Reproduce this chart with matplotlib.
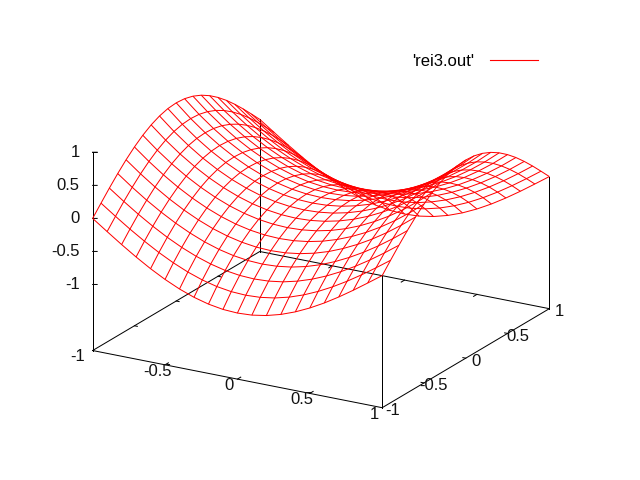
import numpy as np
import matplotlib
matplotlib.use("Agg")
import matplotlib.pyplot as plt
from matplotlib.lines import Line2D
from mpl_toolkits.mplot3d import proj3d

plt.rcParams['font.family'] = ['Liberation Sans', 'DejaVu Sans']

x_values = [-1.0, -0.9, -0.8, -0.7, -0.6, -0.5, -0.4, -0.3, -0.2, -0.1, 0.0,
            0.1, 0.2, 0.3, 0.4, 0.5, 0.6, 0.7, 0.8, 0.9, 1.0]
y_values = list(x_values)

# one row per y value (y = -1 first), one column per x value
z_values = [
 [0,-.156,-.309,-.454,-.588,-.707,-.809,-.891,-.951,-.988,-1,-.988,-.951,-.891,-.809,-.707,-.588,-.454,-.309,-.156,0],
 [.156,0,-.150,-.290,-.418,-.531,-.627,-.704,-.760,-.794,-.805,-.794,-.760,-.704,-.627,-.531,-.418,-.290,-.150,0,.156],
 [.309,.150,0,-.138,-.263,-.372,-.464,-.537,-.591,-.623,-.634,-.623,-.591,-.537,-.464,-.372,-.263,-.138,0,.150,.309],
 [.454,.290,.138,0,-.123,-.230,-.320,-.391,-.442,-.473,-.484,-.473,-.442,-.391,-.320,-.230,-.123,0,.138,.290,.454],
 [.588,.418,.263,.123,0,-.106,-.195,-.264,-.314,-.345,-.355,-.345,-.314,-.264,-.195,-.106,0,.123,.263,.418,.588],
 [.707,.531,.372,.230,.106,0,-.088,-.157,-.206,-.236,-.246,-.236,-.206,-.157,-.088,0,.106,.230,.372,.531,.707],
 [.809,.627,.464,.320,.195,.088,0,-.069,-.118,-.147,-.157,-.147,-.118,-.069,0,.088,.195,.320,.464,.627,.809],
 [.891,.704,.537,.391,.264,.157,.069,0,-.049,-.079,-.089,-.079,-.049,0,.069,.157,.264,.391,.537,.704,.891],
 [.951,.760,.591,.442,.314,.206,.118,.049,0,-.029,-.039,-.029,0,.049,.118,.206,.314,.442,.591,.760,.951],
 [.988,.794,.623,.473,.345,.236,.147,.079,.029,0,-.010,0,.029,.079,.147,.236,.345,.473,.623,.794,.988],
 [1,.805,.634,.484,.355,.246,.157,.089,.039,.010,0,.010,.039,.089,.157,.246,.355,.484,.634,.805,1],
 [.988,.794,.623,.473,.345,.236,.147,.079,.029,0,-.010,0,.029,.079,.147,.236,.345,.473,.623,.794,.988],
 [.951,.760,.591,.442,.314,.206,.118,.049,0,-.029,-.039,-.029,0,.049,.118,.206,.314,.442,.591,.760,.951],
 [.891,.704,.537,.391,.264,.157,.069,0,-.049,-.079,-.089,-.079,-.049,0,.069,.157,.264,.391,.537,.704,.891],
 [.809,.627,.464,.320,.195,.088,0,-.069,-.118,-.147,-.157,-.147,-.118,-.069,0,.088,.195,.320,.464,.627,.809],
 [.707,.531,.372,.230,.106,0,-.088,-.157,-.206,-.236,-.246,-.236,-.206,-.157,-.088,0,.106,.230,.372,.531,.707],
 [.588,.418,.263,.123,0,-.106,-.195,-.264,-.314,-.345,-.355,-.345,-.314,-.264,-.195,-.106,0,.123,.263,.418,.588],
 [.454,.290,.138,0,-.123,-.230,-.320,-.391,-.442,-.473,-.484,-.473,-.442,-.391,-.320,-.230,-.123,0,.138,.290,.454],
 [.309,.150,0,-.138,-.263,-.372,-.464,-.537,-.591,-.623,-.634,-.623,-.591,-.537,-.464,-.372,-.263,-.138,0,.150,.309],
 [.156,0,-.150,-.290,-.418,-.531,-.627,-.704,-.760,-.794,-.805,-.794,-.760,-.704,-.627,-.531,-.418,-.290,-.150,0,.156],
 [0,-.156,-.309,-.454,-.588,-.707,-.809,-.891,-.951,-.988,-1,-.988,-.951,-.891,-.809,-.707,-.588,-.454,-.309,-.156,0],
]

x_ticks = [-1, -0.5, 0, 0.5, 1]
y_ticks = [-1, -0.5, 0, 0.5, 1]
z_ticks = [-1, -0.5, 0, 0.5, 1]
x_labels = ['-1', '-0.5', '0', '0.5', '1']
y_labels = ['-1', '-0.5', '0', '0.5', '1']
z_labels = ['-1', '-0.5', '0', '0.5', '1']
legend_label = "'rei3.out'"

z_floor = -2
z_top = 1

X, Y = np.meshgrid(x_values, y_values)
Z = np.array(z_values, dtype=float)

fig = plt.figure(figsize=(6.4, 4.8), dpi=100, facecolor='white')
ax = fig.add_axes([-5.5 / 640, 3 / 480, 1, 1], projection='3d', proj_type='ortho')
ax.set_xticks([])
ax.set_yticks([])
ax.set_zticks([])
ax.set_axis_off()
ax.computed_zorder = False
ax.view_init(elev=20, azim=-60)
ax.set_box_aspect((334, 334, 210.7), zoom=1.047)
ax.set_xlim(-1, 1)
ax.set_ylim(-1, 1)
ax.set_zlim(z_floor, z_top)

LW = 0.72
axis_style = dict(color='black', lw=LW, zorder=2)

# base rectangle
ax.plot([-1, 1, 1, -1, -1], [-1, -1, 1, 1, -1], z_floor, **axis_style)
# verticals up to the surface corners, and the z axis
ax.plot([-1, -1], [-1, -1], [z_floor, z_top], **axis_style)
ax.plot([1, 1], [-1, -1], [z_floor, Z[0, -1]], **axis_style)
ax.plot([1, 1], [1, 1], [z_floor, Z[-1, -1]], **axis_style)
ax.plot([-1, -1], [1, 1], [z_floor, Z[-1, 0]], **axis_style)

# ticks
for t in x_ticks[1:-1]:
    ax.plot([t, t], [-1, -0.96], z_floor, **axis_style)
    ax.plot([t, t], [1, 0.96], z_floor, **axis_style)
for t in y_ticks[1:-1]:
    ax.plot([-1, -0.98], [t, t], z_floor, **axis_style)
    ax.plot([1, 0.98], [t, t], z_floor, **axis_style)
for t in z_ticks:
    ax.plot([-1, -0.9766], [-1, -0.9866], [t, t], **axis_style)
ax.plot([-1, -0.9766], [-1, -0.9866], [z_top, z_top], **axis_style)


def label3d(x, y, z, s, ha='center'):
    """Place a tick label at a 3D position, projected by the axes' own projection."""
    px, py, _ = proj3d.proj_transform(x, y, z, ax.get_proj())
    ax.text2D(px, py, s, transform=ax.transData, fontsize=12, color='#111111',
              ha=ha, va='center')


# tick labels
for t, s in zip(x_ticks, x_labels):
    if t == -1:
        label3d(t - 0.02, -1.14, z_floor, s)
    else:
        label3d(t + 0.015, -1.121, z_floor, s)
for t, s in zip(y_ticks, y_labels):
    label3d(1.078, t - 0.015, z_floor, s)
for t, s in zip(z_ticks, z_labels):
    label3d(-1.0677, -1.0387, t, s, ha='right')

# surface
ax.plot_wireframe(X, Y, Z, rstride=1, cstride=1, colors='#ff0000', linewidths=LW,
                  antialiased=True, zorder=3)

handle = Line2D([], [], color='#ff0000', lw=0.8)
ax.legend([handle], [legend_label], loc='center right',
          bbox_to_anchor=(538 / 640, 1 - 61.5 / 480),
          bbox_transform=fig.transFigure, frameon=False, markerfirst=False,
          borderaxespad=0, borderpad=0, handlelength=2.88, handletextpad=0.96,
          fontsize=12)

fig.savefig('out.png', dpi=100, facecolor='white')
